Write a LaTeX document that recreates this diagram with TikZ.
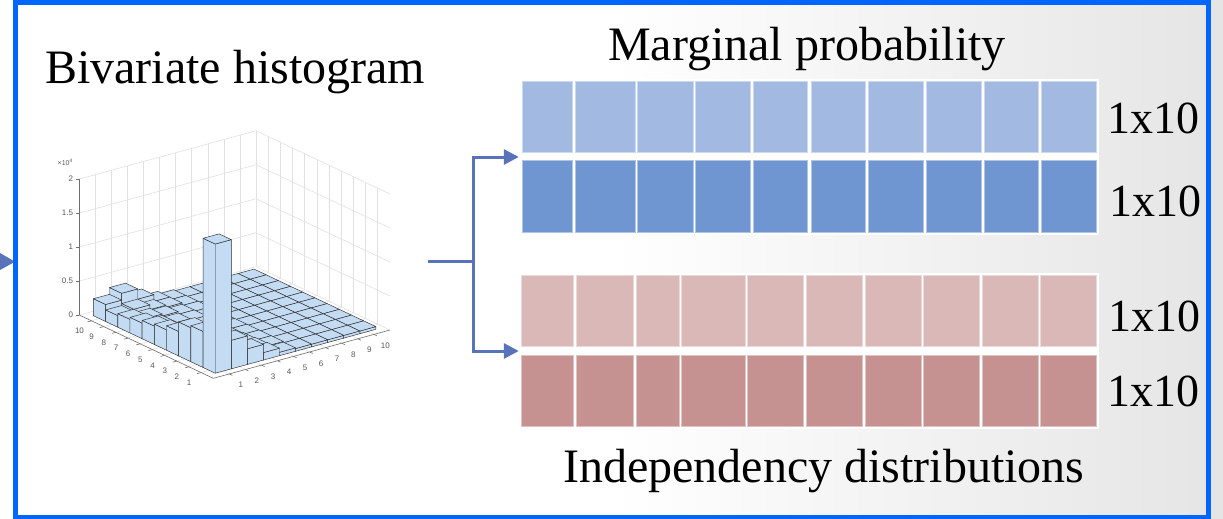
\documentclass[tikz,border=0pt]{standalone}
\usepackage{fontspec}
\setmainfont{Liberation Serif}
\newfontfamily\axisfont{Liberation Sans}
\usetikzlibrary{arrows.meta}
\definecolor{frameblue}{RGB}{0,102,255}
\definecolor{conn}{RGB}{88,115,185}
\definecolor{cellA}{RGB}{162,186,226}
\definecolor{cellB}{RGB}{112,150,210}
\definecolor{cellC}{RGB}{219,184,184}
\definecolor{cellD}{RGB}{197,145,145}
\definecolor{barfill}{RGB}{196,220,243}
\definecolor{baredge}{RGB}{45,45,45}
\definecolor{gridc}{RGB}{225,225,225}
\definecolor{axisc}{RGB}{110,110,110}
\definecolor{bgend}{RGB}{229,229,229}
\pgfdeclarehorizontalshading{slidebg}{100bp}{color(0bp)=(white); color(25bp)=(white); color(50bp)=(white); color(75bp)=(bgend); color(100bp)=(bgend)}
\def\H{{1.9,0.53,0.5,0.36,0.3,0.27,0.23,0.2,0.17,0.25,
0.42,0.2,0.17,0.15,0.14,0.13,0.13,0.15,0.2,0.35,
0.23,0.14,0.12,0.1,0.1,0.1,0.1,0.12,0.13,0.2,
0.11,0.1,0.09,0.08,0.08,0.08,0.08,0.08,0.1,0.1,
0.05,0.06,0.06,0.06,0.06,0.06,0.06,0.06,0.06,0.06,
0.04,0.04,0.04,0.04,0.04,0.04,0.04,0.04,0.04,0.04,
0.04,0.04,0.04,0.04,0.04,0.04,0.04,0.04,0.04,0.04,
0.04,0.04,0.04,0.04,0.04,0.04,0.04,0.04,0.04,0.04,
0.04,0.04,0.04,0.04,0.04,0.04,0.04,0.04,0.04,0.04,
0.04,0.04,0.04,0.04,0.04,0.04,0.04,0.04,0.04,0.04}}
\begin{document}
\begin{tikzpicture}[x=1pt,y=-1pt,
  title/.style={font=\fontsize{48}{52}\selectfont, inner sep=0pt, anchor=base west},
  dimlabel/.style={font=\fontsize{46}{50}\selectfont, inner sep=0pt, anchor=base west},
  group/.style={fill=white, draw=none, minimum width=580pt, minimum height=156pt, inner sep=0pt},
  cell/.style={fill=#1, draw=#1!55!white, line width=0.8pt},
  connline/.style={draw=conn, line width=3pt},
  connarrow/.style={draw=conn, line width=3pt, -{Triangle[length=15pt,width=15pt]}},
  bar/.style={fill=barfill, draw=baredge, line width=0.45pt, line join=round},
  ticklab/.style={font=\axisfont\fontsize{8}{9}\selectfont, text=axisc!80!black, inner sep=0pt},
  gridline/.style={draw=gridc, line width=0.6pt},
  axisline/.style={draw=axisc, line width=0.6pt}]
\useasboundingbox (0,0) rectangle (1223,519);
\shade[shading=slidebg] (0,0) rectangle (1223,519);

% histogram
\begin{scope}[shift={(213.3,378.3)}, x={(16.06pt,4.39pt)}, y={(-12.18pt,5.75pt)}, z={(0pt,68pt)}]
  \foreach \k in {1,...,11} {
    \draw[gridline] (\k,11,0) -- (\k,11,2);
  }
  \foreach \k in {1,...,10} {
    \draw[gridline] (11,\k,0) -- (11,\k,2);
    \draw[gridline] (\k,0,0) -- (\k,11,0);
    \draw[gridline] (0,\k,0) -- (11,\k,0);
  }
  \foreach \z in {0,0.5,1,1.5,2} {
    \draw[gridline] (0,11,\z) -- (11,11,\z) -- (11,0,\z);
  }
  \draw[axisline] (0,11,0) -- (0,11,2);
  \foreach \z in {0,0.5,1,1.5,2} {
    \draw[axisline] (0,11,\z) -- ++(-3pt,0pt);
  }
  \draw[axisline] (0,11,0) -- (0,0,0) -- (11,0,0);
  \foreach \k in {1,...,10} {
    \draw[axisline] (0,\k,0) -- (-0.25,\k,0);
    \draw[axisline] (\k,0,0) -- (\k,-0.25,0);
  }
  \foreach \a in {10,9,...,1} {
    \foreach \b in {10,9,...,1} {
      \pgfmathsetmacro\h{\H[(\a-1)*10+\b-1]}
      \pgfmathsetmacro\al{\a-0.5}
      \pgfmathsetmacro\ar{\a+0.5}
      \pgfmathsetmacro\bl{\b-0.5}
      \pgfmathsetmacro\br{\b+0.5}
      \path[bar] (\al,\bl,0) -- (\al,\br,0) -- (\al,\br,\h) -- (\al,\bl,\h) -- cycle;
      \path[bar] (\al,\bl,0) -- (\ar,\bl,0) -- (\ar,\bl,\h) -- (\al,\bl,\h) -- cycle;
      \path[bar] (\al,\bl,\h) -- (\ar,\bl,\h) -- (\ar,\br,\h) -- (\al,\br,\h) -- cycle;
    }
  }
  \foreach \k in {1,...,10} {
    \path (0,\k,0) ++(-12pt,-10pt) node[ticklab] (yl\k) {\k};
    \path (\k,0,0) ++(11.5pt,-11.3pt) node[ticklab] (xl\k) {\k};
  }
  \foreach \z/\t [count=\i] in {0/0,0.5/0.5,1/1,1.5/1.5,2/2} {
    \path (0,11,\z) ++(-6pt,0pt) node[ticklab, anchor=east] (zl\i) {\t};
  }
  \path (0,11,2) ++(-14pt,17pt) node[ticklab, font=\axisfont\fontsize{7}{8}\selectfont] (zexp) {×10\textsuperscript{4}};
\end{scope}

% groups of cells
\node[group] (blue) at (809,157) {};
\node[group] (pink) at (809,351) {};
\foreach \l/\r in {522.3/572.3,575/635,637.7/693,695.7/750.3,753/807.7,811/865.7,868.7/923.3,926.3/981,984/1038.7,1041.7/1096.3} {
  \path[cell=cellA] (\l,81.7) rectangle (\r,152.3);
  \path[cell=cellB] (\l,160.7) rectangle (\r,232);
}
\foreach \l/\r in {521.7/573,576/633.3,636.3/679,681.7/745,747.7/803.7,806.3/862.3,865/921,923.7/979,982/1038,1040.7/1096.3} {
  \path[cell=cellC] (\l,275.7) rectangle (\r,346.7);
  \path[cell=cellD] (\l,355) rectangle (\r,426);
}

% texts
\node[title] (bh) at (45,83) {Bivariate histogram};
\node[title] (mp) at (608,61) {Marginal probability};
\node[title] (ind) at (563,482) {Independency distributions};
\node[dimlabel] (d1) at (1107,133) {1x10};
\node[dimlabel] (d2) at (1109,216.7) {1x10};
\node[dimlabel] (d3) at (1108,331.7) {1x10};
\node[dimlabel] (d4) at (1107,406.7) {1x10};

% connectors
\coordinate (src) at (428,261);
\coordinate (split) at (473,261);
\draw[connline] (src) -- (split);
\draw[connarrow] (split) |- (blue.west);
\draw[connarrow] (split) |- (pink.west);

% incoming arrow fragment and frame
\fill[conn] (0,253) -- (15,261.7) -- (0,270) -- cycle;
\draw[frameblue, line width=5pt] (15,3) rectangle (1208,517);
\end{tikzpicture}
\end{document}
